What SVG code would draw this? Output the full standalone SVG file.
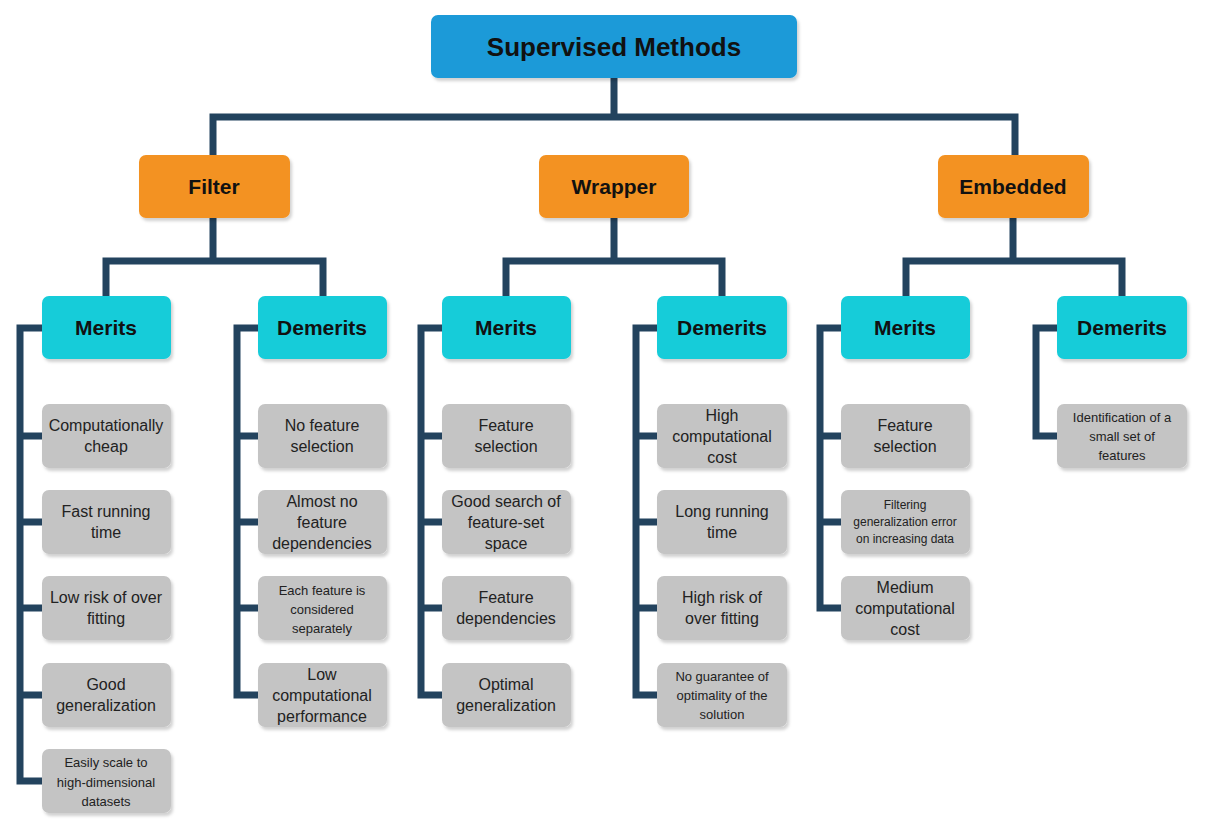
<svg xmlns="http://www.w3.org/2000/svg" width="1207" height="828" viewBox="0 0 1207 828">
<defs>
<filter id="sh" x="-10%" y="-10%" width="130%" height="130%"><feDropShadow dx="2" dy="3" stdDeviation="1.5" flood-color="#000" flood-opacity="0.18"/></filter>
<style>
.c{fill:none;stroke:#23435e;stroke-width:7}
rect{filter:url(#sh)}
.root{fill:#1b9ad8}.or{fill:#f39220}.cy{fill:#17ccd9}.gr{fill:#c4c4c4}
text{font-family:"Liberation Sans",Arial,sans-serif;text-anchor:middle;fill:#111}
.h{font-weight:bold;font-size:21px}.r{font-weight:bold;font-size:26px}
.t{font-size:16px;fill:#222}.s{font-size:13px;fill:#222}
</style>
</defs>
<rect width="1207" height="828" fill="#fff" style="filter:none"/>
<g id="connectors">
<path class="c" d="M614 78V117M213 155V117H1015V155"/>
<path class="c" d="M213 218V261M106 296V261H323V296"/>
<path class="c" d="M614 218V261M506 296V261H722V296"/>
<path class="c" d="M1013 218V261M906 296V261H1122V296"/>
<path class="c" d="M42 328H20V781H42M20 436H42M20 522H42M20 608H42M20 695H42"/>
<path class="c" d="M258 328H237V695H258M237 436H258M237 522H258M237 608H258"/>
<path class="c" d="M442 328H421V695H442M421 436H442M421 522H442M421 608H442"/>
<path class="c" d="M657 328H636V695H657M636 436H657M636 522H657M636 608H657"/>
<path class="c" d="M841 328H820V608H841M820 436H841M820 522H841"/>
<path class="c" d="M1057 328H1036V436H1057"/>
</g>
<g id="root"><rect class="root" x="431" y="15" width="366" height="63" rx="7"/><text class="r" x="614" y="56">Supervised Methods</text></g>
<g id="filter"><rect class="or" x="139" y="155" width="151" height="63" rx="7"/><text class="h" x="214" y="194">Filter</text></g>
<g id="wrapper"><rect class="or" x="539" y="155" width="150" height="63" rx="7"/><text class="h" x="614" y="194">Wrapper</text></g>
<g id="embedded"><rect class="or" x="938" y="155" width="151" height="63" rx="7"/><text class="h" x="1013" y="194">Embedded</text></g>
<g id="f-merits"><rect class="cy" x="42" y="296" width="129" height="63" rx="7"/><text class="h" x="106" y="335">Merits</text></g>
<g id="f-demerits"><rect class="cy" x="258" y="296" width="129" height="63" rx="7"/><text class="h" x="322" y="335">Demerits</text></g>
<g id="w-merits"><rect class="cy" x="442" y="296" width="129" height="63" rx="7"/><text class="h" x="506" y="335">Merits</text></g>
<g id="w-demerits"><rect class="cy" x="657" y="296" width="130" height="63" rx="7"/><text class="h" x="722" y="335">Demerits</text></g>
<g id="e-merits"><rect class="cy" x="841" y="296" width="129" height="63" rx="7"/><text class="h" x="905" y="335">Merits</text></g>
<g id="e-demerits"><rect class="cy" x="1057" y="296" width="130" height="63" rx="7"/><text class="h" x="1122" y="335">Demerits</text></g>

<g id="fm1"><rect class="gr" x="42" y="404" width="129" height="64" rx="7"/><text class="t" x="106" y="431">Computationally</text><text class="t" x="106" y="452">cheap</text></g>
<g id="fm2"><rect class="gr" x="42" y="490" width="129" height="64" rx="7"/><text class="t" x="106" y="517">Fast running</text><text class="t" x="106" y="538">time</text></g>
<g id="fm3"><rect class="gr" x="42" y="576" width="129" height="64" rx="7"/><text class="t" x="106" y="603">Low risk of over</text><text class="t" x="106" y="624">fitting</text></g>
<g id="fm4"><rect class="gr" x="42" y="663" width="129" height="64" rx="7"/><text class="t" x="106" y="690">Good</text><text class="t" x="106" y="711">generalization</text></g>
<g id="fm5"><rect class="gr" x="42" y="749" width="129" height="64" rx="7"/><text class="s" x="106" y="767">Easily scale to</text><text class="s" x="106" y="787">high-dimensional</text><text class="s" x="106" y="806">datasets</text></g>

<g id="fd1"><rect class="gr" x="258" y="404" width="129" height="64" rx="7"/><text class="t" x="322" y="431">No feature</text><text class="t" x="322" y="452">selection</text></g>
<g id="fd2"><rect class="gr" x="258" y="490" width="129" height="64" rx="7"/><text class="t" x="322" y="507">Almost no</text><text class="t" x="322" y="528">feature</text><text class="t" x="322" y="549">dependencies</text></g>
<g id="fd3"><rect class="gr" x="258" y="576" width="129" height="64" rx="7"/><text class="s" x="322" y="595">Each feature is</text><text class="s" x="322" y="614">considered</text><text class="s" x="322" y="633">separately</text></g>
<g id="fd4"><rect class="gr" x="258" y="663" width="129" height="64" rx="7"/><text class="t" x="322" y="680">Low</text><text class="t" x="322" y="701">computational</text><text class="t" x="322" y="722">performance</text></g>

<g id="wm1"><rect class="gr" x="442" y="404" width="129" height="64" rx="7"/><text class="t" x="506" y="431">Feature</text><text class="t" x="506" y="452">selection</text></g>
<g id="wm2"><rect class="gr" x="442" y="490" width="129" height="64" rx="7"/><text class="t" x="506" y="507">Good search of</text><text class="t" x="506" y="528">feature-set</text><text class="t" x="506" y="549">space</text></g>
<g id="wm3"><rect class="gr" x="442" y="576" width="129" height="64" rx="7"/><text class="t" x="506" y="603">Feature</text><text class="t" x="506" y="624">dependencies</text></g>
<g id="wm4"><rect class="gr" x="442" y="663" width="129" height="64" rx="7"/><text class="t" x="506" y="690">Optimal</text><text class="t" x="506" y="711">generalization</text></g>

<g id="wd1"><rect class="gr" x="657" y="404" width="130" height="64" rx="7"/><text class="t" x="722" y="421">High</text><text class="t" x="722" y="442">computational</text><text class="t" x="722" y="463">cost</text></g>
<g id="wd2"><rect class="gr" x="657" y="490" width="130" height="64" rx="7"/><text class="t" x="722" y="517">Long running</text><text class="t" x="722" y="538">time</text></g>
<g id="wd3"><rect class="gr" x="657" y="576" width="130" height="64" rx="7"/><text class="t" x="722" y="603">High risk of</text><text class="t" x="722" y="624">over fitting</text></g>
<g id="wd4"><rect class="gr" x="657" y="663" width="130" height="64" rx="7"/><text class="s" x="722" y="681">No guarantee of</text><text class="s" x="722" y="700">optimality of the</text><text class="s" x="722" y="719">solution</text></g>

<g id="em1"><rect class="gr" x="841" y="404" width="129" height="64" rx="7"/><text class="t" x="905" y="431">Feature</text><text class="t" x="905" y="452">selection</text></g>
<g id="em2"><rect class="gr" x="841" y="490" width="129" height="64" rx="7"/><text style="font-size:12px;fill:#222" x="905" y="509">Filtering</text><text style="font-size:12px;fill:#222" x="905" y="526">generalization error</text><text style="font-size:12px;fill:#222" x="905" y="543">on increasing data</text></g>
<g id="em3"><rect class="gr" x="841" y="576" width="129" height="64" rx="7"/><text class="t" x="905" y="593">Medium</text><text class="t" x="905" y="614">computational</text><text class="t" x="905" y="635">cost</text></g>

<g id="ed1"><rect class="gr" x="1057" y="404" width="130" height="64" rx="7"/><text class="s" x="1122" y="422">Identification of a</text><text class="s" x="1122" y="441">small set of</text><text class="s" x="1122" y="460">features</text></g>
</svg>
